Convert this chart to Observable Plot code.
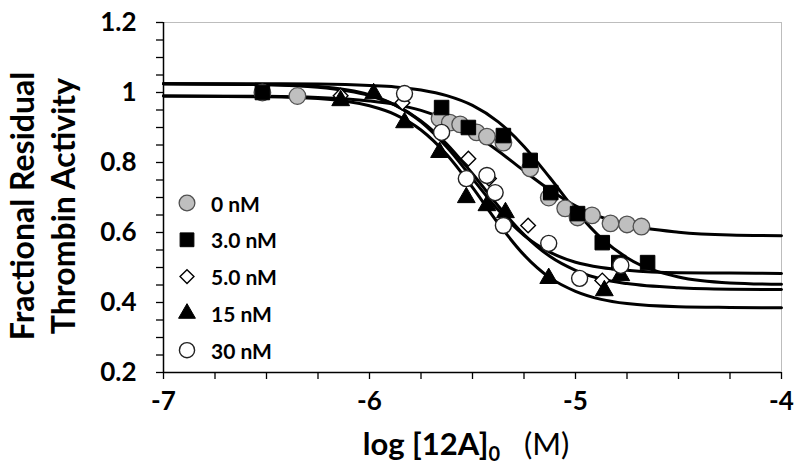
<!DOCTYPE html>
<html>
<head>
<meta charset="utf-8">
<script src="https://cdn.jsdelivr.net/npm/d3@7"></script>
<script src="https://cdn.jsdelivr.net/npm/@observablehq/plot@0.6"></script>
<style>
  html, body { margin: 0; padding: 0; background: #fff; }
</style>
</head>
<body>
<div id="chart"></div>
<script>
// ---------- data ----------
const seriesNames = ["0 nM", "3.0 nM", "5.0 nM", "15 nM", "30 nM"];

// measured points (log[12A]0, fractional residual activity)
const x0nM  = [-6.52, -6.35, -5.66, -5.61, -5.56, -5.48, -5.43, -5.35, -5.22, -5.13, -5.05, -4.99, -4.92, -4.83, -4.75, -4.68];
const y0nM  = [1.00, 0.99, 0.926, 0.914, 0.909, 0.886, 0.874, 0.857, 0.783, 0.700, 0.669, 0.643, 0.649, 0.626, 0.623, 0.617];
const x3nM  = [-6.52, -5.65, -5.52, -5.35, -5.22, -5.12, -4.99, -4.87, -4.79, -4.65];
const y3nM  = [1.00, 0.957, 0.900, 0.877, 0.806, 0.714, 0.654, 0.571, 0.514, 0.514];
const x5nM  = [-6.14, -5.84, -5.52, -5.42, -5.23, -4.98, -4.87];
const y5nM  = [0.991, 0.971, 0.811, 0.754, 0.620, 0.469, 0.463];
const x15nM = [-6.14, -5.98, -5.83, -5.66, -5.53, -5.43, -5.34, -5.13, -4.86, -4.78];
const y15nM = [0.977, 0.997, 0.914, 0.829, 0.700, 0.677, 0.657, 0.469, 0.434, 0.477];
const x30nM = [-5.83, -5.65, -5.53, -5.43, -5.39, -5.35, -5.13, -4.98, -4.78];
const y30nM = [0.997, 0.886, 0.754, 0.763, 0.714, 0.620, 0.569, 0.469, 0.506];

// fitted curves at these x positions
const curveX   = [-7, -6.5, -6.25, -6, -5.875, -5.75, -5.625, -5.5, -5.375, -5.25, -5.125, -5, -4.875, -4.75, -4.5, -4.25, -4];
const curve0   = [0.990, 0.989, 0.986, 0.976, 0.966, 0.949, 0.922, 0.883, 0.833, 0.776, 0.722, 0.676, 0.644, 0.622, 0.601, 0.593, 0.591];
const curve3   = [1.025, 1.025, 1.024, 1.020, 1.016, 1.007, 0.991, 0.963, 0.916, 0.846, 0.757, 0.663, 0.584, 0.528, 0.473, 0.456, 0.452];
const curve5   = [1.025, 1.022, 1.015, 0.991, 0.964, 0.919, 0.853, 0.768, 0.676, 0.594, 0.532, 0.492, 0.467, 0.454, 0.442, 0.438, 0.437];
const curve15  = [0.990, 0.988, 0.983, 0.962, 0.937, 0.893, 0.823, 0.729, 0.626, 0.536, 0.471, 0.432, 0.409, 0.397, 0.388, 0.386, 0.385];
const curve30  = [1.025, 1.023, 1.017, 0.993, 0.964, 0.916, 0.844, 0.754, 0.664, 0.592, 0.544, 0.515, 0.500, 0.492, 0.485, 0.484, 0.483];

// axes
const xDomain = [-7, -4];
const yDomain = [0.2, 1.2];
const xTickValues = [-7, -6.75, -6.5, -6.25, -6, -5.75, -5.5, -5.25, -5, -4.75, -4.5, -4.25, -4];
const xTickLabels = ["-7", "", "", "", "-6", "", "", "", "-5", "", "", "", "-4"];
const yTickValues = [0.2, 0.25, 0.3, 0.35, 0.4, 0.45, 0.5, 0.55, 0.6, 0.65, 0.7, 0.75, 0.8, 0.85, 0.9, 0.95, 1, 1.05, 1.1, 1.15, 1.2];
const yTickLabels = ["0.2", "", "", "", "0.4", "", "", "", "0.6", "", "", "", "0.8", "", "", "", "1", "", "", "", "1.2"];
const yTitleLines = ["Fractional Residual", "Thrombin Activity"];

// ---------- styling ----------
const seriesStyle = [
  {symbol: "circle",   d3symbol: d3.symbolCircle,   fill: "#bfbfbf", stroke: "#505050", r: 8.3, sw: 1.3},
  {symbol: "square",   d3symbol: d3.symbolSquare,   fill: "#000",    stroke: "#000",    r: 8.2, sw: 1},
  {symbol: "diamond2", d3symbol: d3.symbolDiamond2, fill: "#fff",    stroke: "#000",    r: 6.6, sw: 1.4},
  {symbol: "triangle", d3symbol: d3.symbolTriangle, fill: "#000",    stroke: "#000",    r: 6.6, sw: 1},
  {symbol: "circle",   d3symbol: d3.symbolCircle,   fill: "#fff",    stroke: "#222",    r: 8.0, sw: 1.4}
];

const pointX = [x0nM, x3nM, x5nM, x15nM, x30nM];
const pointY = [y0nM, y3nM, y5nM, y15nM, y30nM];
const curveY = [curve0, curve3, curve5, curve15, curve30];

const lineMarks = curveY.map(cy =>
  Plot.line(curveX.map((x, i) => ({x, y: cy[i]})), {
    x: "x", y: "y", stroke: "#000", strokeWidth: 3, curve: "monotone-x"
  })
);
const dotMarks = pointX.map((xs, k) => {
  const s = seriesStyle[k];
  return Plot.dot(xs.map((x, i) => ({x, y: pointY[k][i]})), {
    x: "x", y: "y", symbol: s.symbol, r: s.r, fill: s.fill, stroke: s.stroke, strokeWidth: s.sw
  });
});

const FONT = "Lato, 'Liberation Sans', Arial, sans-serif";

const chart = Plot.plot({
  width: 800,
  height: 473,
  marginLeft: 163,
  marginRight: 19,
  marginTop: 22,
  marginBottom: 101,
  style: {fontFamily: FONT, fontSize: "26px", fontWeight: "bold", color: "#000", background: "#fff", overflow: "visible"},
  x: {domain: xDomain},
  y: {domain: yDomain},
  marks: [
    Plot.frame({stroke: "#bdbdbd", strokeWidth: 1}),
    Plot.axisY({ticks: yTickValues, tickSize: 7, tickPadding: 20, strokeWidth: 1.3,
      tickFormat: d => yTickLabels[yTickValues.findIndex(v => Math.abs(v - d) < 1e-9)], label: null}),
    Plot.axisX({ticks: xTickValues, tickSize: 7, tickPadding: 12, strokeWidth: 1.3,
      tickFormat: d => xTickLabels[xTickValues.findIndex(v => Math.abs(v - d) < 1e-9)], label: null}),
    Plot.ruleX([xDomain[0]], {stroke: "#000", strokeWidth: 1.5}),
    Plot.ruleY([yDomain[0]], {stroke: "#000", strokeWidth: 1.5}),
    ...lineMarks,
    ...dotMarks
  ]
});
document.getElementById("chart").appendChild(chart);

// ---------- titles and legend ----------
const svg = d3.select(chart);

svg.append("text")
  .attr("transform", "translate(34,206) rotate(-90)")
  .attr("text-anchor", "middle")
  .style("font-family", FONT).style("font-size", "32px").style("font-weight", "bold")
  .text(yTitleLines[0]);
svg.append("text")
  .attr("transform", "translate(75,206) rotate(-90)")
  .attr("text-anchor", "middle")
  .style("font-family", FONT).style("font-size", "32px").style("font-weight", "bold")
  .text(yTitleLines[1]);

const xt = svg.append("text")
  .attr("x", 466).attr("y", 455)
  .attr("text-anchor", "middle")
  .style("font-family", FONT).style("font-size", "31px");
xt.append("tspan").style("font-weight", "bold").text("log [12A]");
xt.append("tspan").style("font-weight", "bold").style("font-size", "20px").attr("dy", 6).text("0");
xt.append("tspan").style("font-weight", "normal").attr("dy", -6).text("\u00a0\u00a0\u00a0(M)");

const legend = svg.append("g");
seriesNames.forEach((name, k) => {
  const s = seriesStyle[k];
  const y = 203 + k * 36.8;
  legend.append("path")
    .attr("d", d3.symbol(s.d3symbol, Math.PI * s.r * s.r * 0.9)())
    .attr("transform", `translate(187,${y})`)
    .attr("fill", s.fill).attr("stroke", s.stroke).attr("stroke-width", s.sw);
  legend.append("text")
    .attr("x", 211).attr("y", y)
    .attr("text-anchor", "start")
    .attr("dominant-baseline", "central")
    .style("font-family", FONT).style("font-size", "21px").style("font-weight", "bold")
    .text(name);
});
</script>
</body>
</html>
